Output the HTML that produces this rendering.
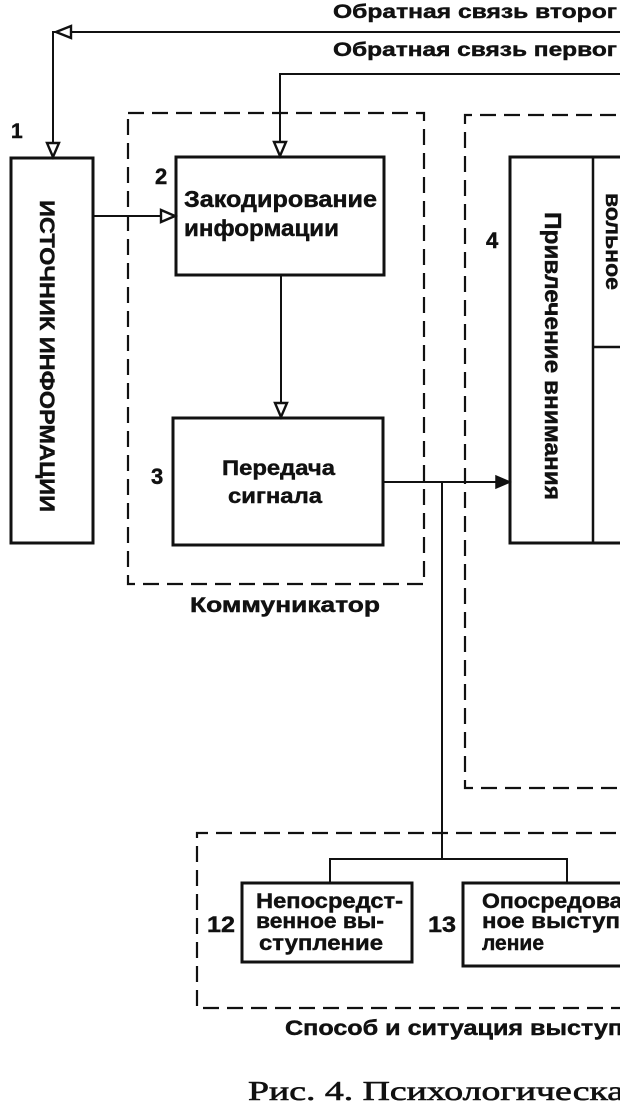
<!DOCTYPE html>
<html>
<head>
<meta charset="utf-8">
<style>
  html, body { margin:0; padding:0; background:#fff; }
  body { width:620px; height:1112px; overflow:hidden; }
  svg { display:block; }
  .t { font-family: "Liberation Sans", "DejaVu Sans", sans-serif; font-weight:bold; fill:#111; stroke:#111; stroke-width:0.45; }
  .s { font-family: "Liberation Serif", "DejaVu Serif", serif; fill:#111; stroke:#111; stroke-width:0.6; }
</style>
</head>
<body>
<svg width="620" height="1112" viewBox="0 0 620 1112" xmlns="http://www.w3.org/2000/svg">
  <rect x="0" y="0" width="620" height="1112" fill="#fff"/>

  <!-- Top feedback labels -->
  <text class="t" x="333" y="18" font-size="19.5" textLength="284" lengthAdjust="spacingAndGlyphs">Обратная связь второг</text>
  <text class="t" x="333" y="56" font-size="19.5" textLength="284" lengthAdjust="spacingAndGlyphs">Обратная связь первог</text>

  <!-- Feedback line 1 -->
  <polyline points="640,32 53,32 53,150" fill="none" stroke="#111" stroke-width="2"/>
  <polygon points="56,32 71,26 71,38" fill="#fff" stroke="#111" stroke-width="2.4"/>
  <polygon points="53,157 47,143 59,143" fill="#fff" stroke="#111" stroke-width="2.4"/>

  <!-- Feedback line 2 -->
  <polyline points="640,74 280,74 280,150" fill="none" stroke="#111" stroke-width="2"/>
  <polygon points="280,156 274,142 286,142" fill="#fff" stroke="#111" stroke-width="2.4"/>

  <!-- Box 1 -->
  <text class="t" x="11" y="138" font-size="21">1</text>
  <rect x="11" y="158" width="82" height="385" fill="none" stroke="#111" stroke-width="3"/>
  <text class="t" transform="translate(40,200) rotate(90)" x="0" y="0" font-size="21" textLength="312" lengthAdjust="spacingAndGlyphs">ИСТОЧНИК ИНФОРМАЦИИ</text>

  <!-- Arrow 1 -> 2 -->
  <line x1="93" y1="216" x2="168" y2="216" stroke="#111" stroke-width="2"/>
  <polygon points="175,216 161,210 161,222" fill="#fff" stroke="#111" stroke-width="2.4"/>

  <!-- Communicator dashed box -->
  <rect x="128" y="113" width="296" height="471" fill="none" stroke="#111" stroke-width="2.2" stroke-dasharray="16 8"/>
  <text class="t" x="190" y="612" font-size="21" textLength="190" lengthAdjust="spacingAndGlyphs">Коммуникатор</text>

  <!-- Box 2 -->
  <text class="t" x="155" y="184" font-size="22">2</text>
  <rect x="176" y="157" width="208" height="118" fill="none" stroke="#111" stroke-width="3"/>
  <text class="t" x="184" y="207" font-size="23" textLength="193" lengthAdjust="spacingAndGlyphs">Закодирование</text>
  <text class="t" x="184" y="236" font-size="23" textLength="155" lengthAdjust="spacingAndGlyphs">информации</text>

  <!-- Arrow 2 -> 3 -->
  <line x1="281" y1="275" x2="281" y2="410" stroke="#111" stroke-width="2"/>
  <polygon points="281,417 275,403 287,403" fill="#fff" stroke="#111" stroke-width="2.4"/>

  <!-- Box 3 -->
  <text class="t" x="151" y="484" font-size="22">3</text>
  <rect x="173" y="418" width="210" height="127" fill="none" stroke="#111" stroke-width="3"/>
  <text class="t" x="222" y="475" font-size="21" textLength="113" lengthAdjust="spacingAndGlyphs">Передача</text>
  <text class="t" x="228" y="503" font-size="21" textLength="94" lengthAdjust="spacingAndGlyphs">сигнала</text>

  <!-- Arrow 3 -> 4 and branch -->
  <line x1="383" y1="482" x2="503" y2="482" stroke="#111" stroke-width="2"/>
  <polygon points="510,482 496,476 496,488" fill="#111" stroke="#111" stroke-width="1.5"/>
  <line x1="442" y1="482" x2="442" y2="859" stroke="#111" stroke-width="2"/>
  <polyline points="330,883 330,859 567,859 567,883" fill="none" stroke="#111" stroke-width="2"/>

  <!-- Right dashed box -->
  <polyline points="640,115 465,115 465,788 640,788" fill="none" stroke="#111" stroke-width="2.2" stroke-dasharray="16 8"/>

  <!-- Box 4 -->
  <text class="t" x="486" y="248" font-size="22">4</text>
  <polyline points="640,157 510,157 510,543 640,543" fill="none" stroke="#111" stroke-width="3"/>
  <line x1="593" y1="157" x2="593" y2="543" stroke="#111" stroke-width="2.5"/>
  <line x1="593" y1="347" x2="640" y2="347" stroke="#111" stroke-width="2.5"/>
  <text class="t" transform="translate(545,212) rotate(90)" x="0" y="0" font-size="23" textLength="288" lengthAdjust="spacingAndGlyphs">Привлечение внимания</text>
  <text class="t" transform="translate(606,193) rotate(90)" x="0" y="0" font-size="21" textLength="97" lengthAdjust="spacingAndGlyphs">вольное</text>

  <!-- Bottom dashed box -->
  <polyline points="640,833 197,833 197,1008 640,1008" fill="none" stroke="#111" stroke-width="2.2" stroke-dasharray="16 8"/>

  <!-- Box 12 -->
  <text class="t" x="207" y="932" font-size="22" textLength="28" lengthAdjust="spacingAndGlyphs">12</text>
  <rect x="242" y="883" width="170" height="79" fill="none" stroke="#111" stroke-width="3"/>
  <text class="t" x="256" y="908" font-size="21" textLength="147" lengthAdjust="spacingAndGlyphs">Непосредст-</text>
  <text class="t" x="256" y="928" font-size="21" textLength="128" lengthAdjust="spacingAndGlyphs">венное вы-</text>
  <text class="t" x="259" y="950" font-size="21" textLength="124" lengthAdjust="spacingAndGlyphs">ступление</text>

  <!-- Box 13 -->
  <text class="t" x="428" y="932" font-size="22" textLength="28" lengthAdjust="spacingAndGlyphs">13</text>
  <polyline points="640,883 463,883 463,966 640,966" fill="none" stroke="#111" stroke-width="3"/>
  <text class="t" x="482" y="908" font-size="21" textLength="162" lengthAdjust="spacingAndGlyphs">Опосредован-</text>
  <text class="t" x="482" y="928" font-size="21" textLength="146" lengthAdjust="spacingAndGlyphs">ное выступ-</text>
  <text class="t" x="482" y="950" font-size="21" textLength="62" lengthAdjust="spacingAndGlyphs">ление</text>

  <text class="t" x="285" y="1035" font-size="21" textLength="338" lengthAdjust="spacingAndGlyphs">Способ и ситуация  выступ</text>

  <!-- Caption -->
  <text class="s" x="248" y="1100" font-size="27" textLength="376" lengthAdjust="spacingAndGlyphs">Рис. 4. Психологическа</text>
</svg>
</body>
</html>
